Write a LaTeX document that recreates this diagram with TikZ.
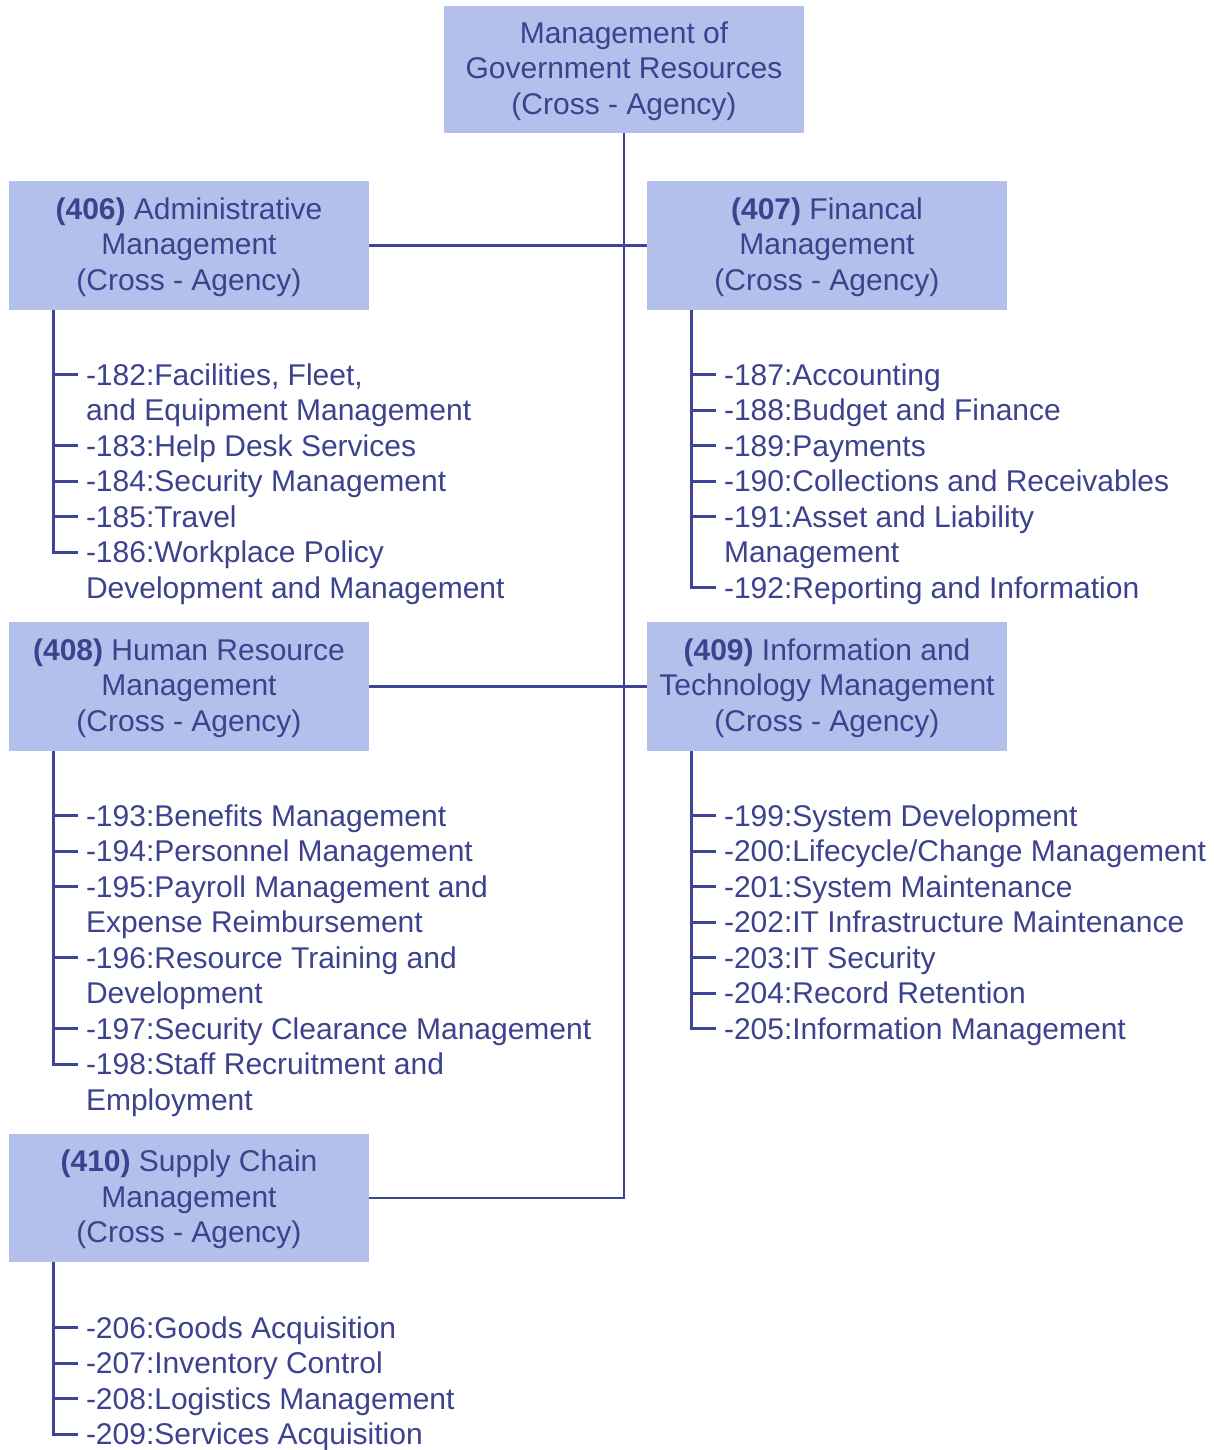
\documentclass[tikz,border=0pt]{standalone}
\usepackage{fontspec}
\setmainfont{Liberation Sans}
\usetikzlibrary{positioning}
\definecolor{boxfill}{RGB}{180,192,236}
\definecolor{inkblue}{RGB}{60,66,142}
\definecolor{lineblue}{RGB}{62,68,150}
\newcommand{\topstrut}{\rule{0pt}{25pt}}

\begin{document}
\begin{tikzpicture}[x=1pt,y=1pt,
    area/.style={fill=boxfill,text=inkblue,minimum width=360pt,minimum height=129pt,
      inner sep=0pt,align=center,font=\fontsize{30}{35.5}\selectfont},
    item/.style={text=inkblue,inner sep=0pt,align=left,
      font=\fontsize{30}{35.5}\selectfont},
    link/.style={draw=lineblue,line width=2.7pt}]
  \useasboundingbox (0,0) rectangle (1214,-1450);

  % top and the five areas
  \node[area,minimum height=127pt] (top) at (624,-69.5) {\topstrut Management of\\Government Resources\\(Cross - Agency)};
  \node[area] (b406) at (189,-245.5) {\topstrut{\bfseries (406)} Administrative\\Management\\(Cross - Agency)};
  \node[area] (b407) at (827,-245.5) {\topstrut{\bfseries (407)} Financal\\Management\\(Cross - Agency)};
  \node[area] (b408) at (189,-686.5) {\topstrut{\bfseries (408)} Human Resource\\Management\\(Cross - Agency)};
  \node[area] (b409) at (827,-686.5) {\topstrut{\bfseries (409)} Information and\\Technology Management\\(Cross - Agency)};
  \node[area,minimum height=128pt] (b410) at (189,-1198) {\topstrut{\bfseries (410)} Supply Chain\\Management\\(Cross - Agency)};

  \draw[link] (top.south) |- (b410.east);
  \draw[link] (b406.east) -- (b407.west);
  \draw[link] (b408.east) -- (b409.west);

  % sub-functions
  \foreach \k/\t [count=\n] in {0/{-182:Facilities, Fleet,\\and Equipment Management},
      2/{-183:Help Desk Services}, 3/{-184:Security Management}, 4/{-185:Travel},
      5/{-186:Workplace Policy\\Development and Management}} {
    \pgfmathsetmacro\dy{50+35.5*\k}
    \node[item,below right=\dy pt and 77pt of b406.south west] (i406-\n) {\topstrut\t};
    \draw[link] ([xshift=45pt]b406.south west) |- ([xshift=-8pt,yshift=-14.5pt]i406-\n.north west);
  }
  \foreach \k/\t [count=\n] in {0/{-187:Accounting}, 1/{-188:Budget and Finance},
      2/{-189:Payments}, 3/{-190:Collections and Receivables},
      4/{-191:Asset and Liability\\Management}, 6/{-192:Reporting and Information}} {
    \pgfmathsetmacro\dy{50+35.5*\k}
    \node[item,below right=\dy pt and 77pt of b407.south west] (i407-\n) {\topstrut\t};
    \draw[link] ([xshift=45pt]b407.south west) |- ([xshift=-8pt,yshift=-14.5pt]i407-\n.north west);
  }
  \foreach \k/\t [count=\n] in {0/{-193:Benefits Management}, 1/{-194:Personnel Management},
      2/{-195:Payroll Management and\\Expense Reimbursement},
      4/{-196:Resource Training and\\Development}, 6/{-197:Security Clearance Management},
      7/{-198:Staff Recruitment and\\Employment}} {
    \pgfmathsetmacro\dy{50+35.5*\k}
    \node[item,below right=\dy pt and 77pt of b408.south west] (i408-\n) {\topstrut\t};
    \draw[link] ([xshift=45pt]b408.south west) |- ([xshift=-8pt,yshift=-14.5pt]i408-\n.north west);
  }
  \foreach \k/\t [count=\n] in {0/{-199:System Development}, 1/{-200:Lifecycle/Change Management},
      2/{-201:System Maintenance}, 3/{-202:IT Infrastructure Maintenance},
      4/{-203:IT Security}, 5/{-204:Record Retention}, 6/{-205:Information Management}} {
    \pgfmathsetmacro\dy{50+35.5*\k}
    \node[item,below right=\dy pt and 77pt of b409.south west] (i409-\n) {\topstrut\t};
    \draw[link] ([xshift=45pt]b409.south west) |- ([xshift=-8pt,yshift=-14.5pt]i409-\n.north west);
  }
  \foreach \k/\t [count=\n] in {0/{-206:Goods Acquisition}, 1/{-207:Inventory Control},
      2/{-208:Logistics Management}, 3/{-209:Services Acquisition}} {
    \pgfmathsetmacro\dy{51+35.5*\k}
    \node[item,below right=\dy pt and 77pt of b410.south west] (i410-\n) {\topstrut\t};
    \draw[link] ([xshift=45pt]b410.south west) |- ([xshift=-8pt,yshift=-14.5pt]i410-\n.north west);
  }
\end{tikzpicture}
\end{document}
